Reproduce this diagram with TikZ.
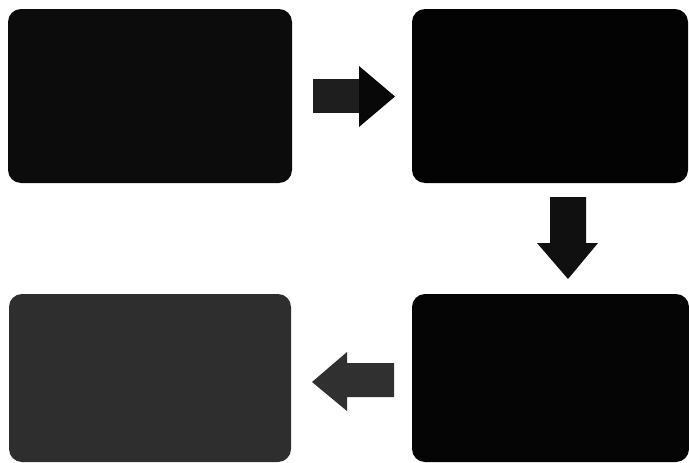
\documentclass[tikz,border=0pt]{standalone}
\begin{document}
\begin{tikzpicture}[x=1pt,y=-1pt,
  panel/.style={rounded corners=13pt, draw=none},
  blockarrow/.style={draw=none}]
\useasboundingbox (0,0) rectangle (689,463);
\fill[white] (0,0) rectangle (689,463);
\definecolor{boxA}{HTML}{0C0C0C}
\definecolor{boxB}{HTML}{030303}
\definecolor{boxC}{HTML}{050505}
\definecolor{boxD}{HTML}{2E2E2E}
\definecolor{arrA}{HTML}{1E1E1E}
\definecolor{arrAhead}{HTML}{080808}
\definecolor{arrB}{HTML}{101010}
\definecolor{arrC}{HTML}{303030}
% panels
\path[panel, fill=boxA] (8,9) rectangle (292,183);
\path[panel, fill=boxB] (412,9) rectangle (688,183);
\path[panel, fill=boxC] (412,294) rectangle (689,462);
\path[panel, fill=boxD] (9,294) rectangle (291,462);
% right arrow
\fill[blockarrow, fill=arrA] (313,79) -- (359,79) -- (359,113) -- (313,113) -- cycle;
\fill[blockarrow, fill=arrAhead] (359,66) -- (395,96.5) -- (359,127) -- cycle;
% down arrow
\fill[blockarrow, fill=arrB] (550,197) -- (586,197) -- (586,243) -- (598,243) -- (568,279) -- (537,243) -- (550,243) -- cycle;
% left arrow
\fill[blockarrow, fill=arrC] (394,363) -- (347,363) -- (347,352) -- (312,382) -- (347,411) -- (347,397) -- (394,397) -- cycle;
\end{tikzpicture}
\end{document}
